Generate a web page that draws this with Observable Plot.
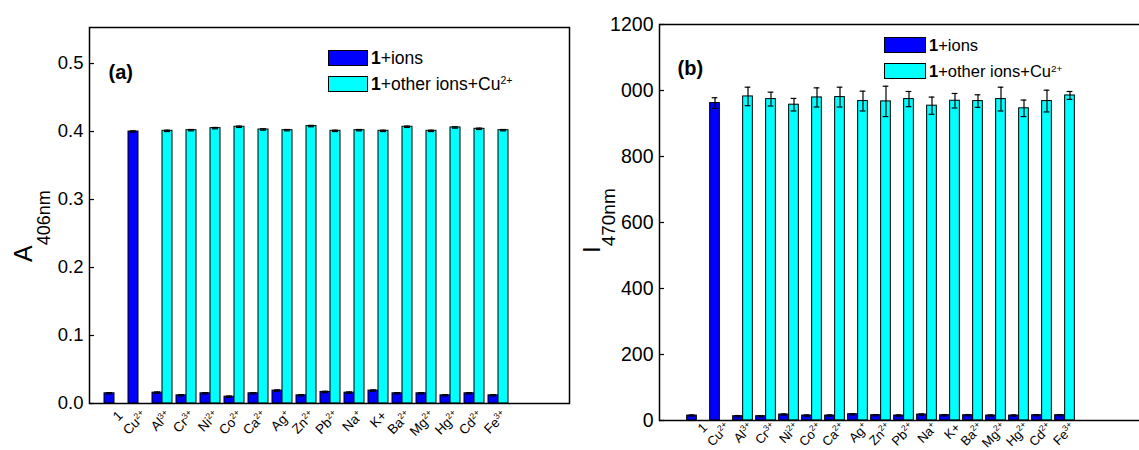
<!DOCTYPE html>
<html><head><meta charset="utf-8">
<script src="https://cdn.jsdelivr.net/npm/d3@7"></script>
<script src="https://cdn.jsdelivr.net/npm/@observablehq/plot@0.6"></script>
<style>
html,body{margin:0;padding:0;background:#fff;overflow:hidden}
#fig{position:relative;width:1139px;height:450px;overflow:hidden;font-family:"Liberation Sans",Arial,sans-serif;background:#fff}
.panel{position:absolute;top:0}
.leg{position:absolute;color:#000;font-family:"Liberation Sans",Arial,sans-serif;white-space:nowrap}
.leg .row{position:absolute;left:0;display:flex;align-items:center}
.leg .sw{border:1px solid #000;box-sizing:border-box;margin-right:3px}
.leg sup{font-size:60%;vertical-align:0.55em;line-height:0}
</style></head><body><div id="fig"></div><script>
// ---- data ----
const categories = ["1","Cu","Al","Cr","Ni","Co","Ca","Ag","Zn","Pb","Na","K+","Ba","Mg","Hg","Cd","Fe"];
const charges    = ["","2+","3+","3+","2+","2+","2+","+","2+","2+","+","","2+","2+","2+","2+","3+"];

// (a) absorbance at 406 nm
const absIons    = [0.015,0.400,0.016,0.012,0.015,0.010,0.015,0.019,0.012,0.017,0.016,0.019,0.015,0.015,0.012,0.015,0.012];
const absIonsErr = [0.001,0.001,0.001,0.001,0.001,0.001,0.001,0.001,0.001,0.001,0.001,0.001,0.001,0.001,0.001,0.001,0.001];
const absMix     = [null,null,0.401,0.402,0.405,0.407,0.403,0.402,0.408,0.401,0.402,0.401,0.407,0.401,0.406,0.404,0.402];
const absMixErr  = [null,null,0.001,0.001,0.001,0.001,0.001,0.001,0.001,0.001,0.001,0.001,0.001,0.001,0.001,0.001,0.001];
const absTicks      = [0,0.1,0.2,0.3,0.4,0.5];
const absTickLabels = ["0.0","0.1","0.2","0.3","0.4","0.5"];

// (b) emission intensity at 470 nm
const flIons     = [15,962,13,13,18,15,15,19,16,15,18,16,16,15,15,16,16];
const flIonsErr  = [2,16,2,2,2,2,2,2,2,2,2,2,2,2,2,2,2];
const flMix      = [null,null,982,974,957,979,980,968,967,974,954,969,968,974,946,968,985];
const flMixErr   = [null,null,28,21,19,29,30,30,46,23,26,22,19,36,25,33,12];
const flTicks      = [0,200,400,600,800,1000,1200];
const flTickLabels = ["0","200","400","600","800","000","1200"];

const seriesNames = ["1+ions","1+other ions+Cu"];
const BLUE = "#0000ff", CYAN = "#00ffff";
const FONT = "'Liberation Sans', Arial, sans-serif";
const SVGNS = "http://www.w3.org/2000/svg";

function rows(vals, errs) {
  return categories.map((c, i) => ({c, v: vals[i], e: errs[i]})).filter(d => d.v != null);
}

function panel(o) {
  const blue = rows(o.ions, o.ionsErr), cyan = rows(o.mix, o.mixErr);
  const h = o.step / 2, bw = o.barW, cw = 6;
  const plotW = o.width - o.ml - o.mr;
  const errMarks = (data, side) => {
    const off = side * (bw / 2);
    const capIn = side < 0 ? {insetLeft: h - bw/2 - cw/2, insetRight: h + bw/2 - cw/2} : {insetLeft: h + bw/2 - cw/2, insetRight: h - bw/2 - cw/2};
    return [
      Plot.ruleX(data, {x: "c", y1: d => d.v - d.e, y2: d => d.v + d.e, dx: off, stroke: "#000", strokeWidth: 1.2}),
      Plot.tickY(data, {x: "c", y: d => d.v + d.e, stroke: "#000", strokeWidth: 1.2, ...capIn}),
      Plot.tickY(data, {x: "c", y: d => d.v - d.e, stroke: "#000", strokeWidth: 1.2, ...capIn})
    ];
  };
  const svg = Plot.plot({
    width: o.width, height: 450,
    marginLeft: o.ml, marginRight: o.mr, marginTop: o.mt, marginBottom: o.mb,
    style: {fontFamily: FONT, background: "transparent", overflow: "visible"},
    x: {type: "band", domain: categories, range: o.xRange, padding: 0, axis: null},
    y: {domain: o.yDomain, axis: null},
    marks: [
      Plot.barY(blue, {x: "c", y: "v", fill: BLUE, stroke: "#000", strokeWidth: 1, insetLeft: h - bw, insetRight: h}),
      Plot.barY(cyan, {x: "c", y: "v", fill: CYAN, stroke: "#000", strokeWidth: 1, insetLeft: h, insetRight: h - bw}),
      ...errMarks(blue, -1),
      ...errMarks(cyan, 1),
      Plot.tickY(o.yTicks, {y: d => d, stroke: "#000", strokeWidth: 1.2, insetRight: plotW - 5}),
      Plot.axisY({ticks: o.yTicks, tickFormat: d => o.yLabels[o.yTicks.indexOf(d)], tickSize: 0, tickPadding: 6, fontSize: o.yFont, label: null, fill: "#000"}),
      Plot.text(categories, {x: d => d, frameAnchor: "bottom", rotate: -45, textAnchor: "end",
        dx: o.xdx, dy: o.xdy, fontSize: o.xFont, fill: "#000"}),
      Plot.frame({stroke: "#000", strokeWidth: 1.5}),
      Plot.text([o.tag], {frameAnchor: "top-left", dx: o.tagDx, dy: o.tagDy, fontWeight: "bold", fontSize: 20, fill: "#000", textAnchor: "start"})
    ]
  });
  // ion labels: superscript charges
  svg.querySelectorAll("text").forEach(t => {
    if (t.closest('g[aria-label="text"]') == null) return;
    const i = categories.indexOf(t.textContent);
    if (i < 0 || !charges[i]) return;
    const ts = document.createElementNS(SVGNS, "tspan");
    ts.setAttribute("dy", "-0.6em");
    ts.setAttribute("font-size", "8.5");
    ts.textContent = charges[i];
    t.appendChild(ts);
  });
  // y axis title with subscript
  const yt = d3.select(svg).append("text")
    .attr("transform", `translate(${o.yTitleX},${o.yTitleY}) rotate(-90)`)
    .attr("font-family", FONT).attr("fill", "#000").attr("text-anchor", "start");
  yt.append("tspan").attr("font-size", o.yTitleFont).text(o.yTitle);
  yt.append("tspan").attr("font-size", o.ySubFont).attr("dy", o.ySubDy).text(o.ySub);
  svg.classList.add("panel");
  svg.style.left = o.left + "px";
  return svg;
}

function legend(o) {
  const div = document.createElement("div");
  div.className = "leg";
  div.style.left = o.x + "px"; div.style.top = o.y + "px"; div.style.fontSize = o.font + "px";
  const mk = (top, color, html) => {
    const r = document.createElement("div");
    r.className = "row"; r.style.top = top + "px"; r.style.height = o.h + "px";
    r.innerHTML = `<div class="sw" style="width:${o.w}px;height:${o.h}px;background:${color}"></div><span><b>1</b>${html}</span>`;
    div.appendChild(r);
  };
  mk(0, BLUE, seriesNames[0].slice(1));
  mk(o.gap, CYAN, seriesNames[1].slice(1) + "<sup>2+</sup>");
  return div;
}

const fig = document.getElementById("fig");
fig.appendChild(panel({
  left: 0, width: 575, ml: 89, mr: 6, mt: 27, mb: 47,
  xRange: [102, 510], step: 24, barW: 10, xdx: 9, xdy: 13, xFont: 13.5,
  yDomain: [0, 0.553], yTicks: absTicks, yLabels: absTickLabels, yFont: 18.5,
  ions: absIons, ionsErr: absIonsErr, mix: absMix, mixErr: absMixErr,
  tag: "(a)", tagDx: 19, tagDy: 37,
  yTitle: "A", ySub: "406nm", yTitleX: 32, yTitleY: 262, yTitleFont: 25, ySubFont: 18, ySubDy: 18
}));
fig.appendChild(panel({
  left: 575, width: 600, ml: 84, mr: 20, mt: 24, mb: 30,
  xRange: [107.75, 503.85], step: 23.3, barW: 10, xdx: 11, xdy: 8, xFont: 13,
  yDomain: [0, 1200], yTicks: flTicks, yLabels: flTickLabels, yFont: 19.5,
  ions: flIons, ionsErr: flIonsErr, mix: flMix, mixErr: flMixErr,
  tag: "(b)", tagDx: 18, tagDy: 36,
  yTitle: "I", ySub: "470nm", yTitleX: 25, yTitleY: 253, yTitleFont: 24, ySubFont: 19, ySubDy: 15
}));
fig.appendChild(legend({x: 328, y: 50, w: 40, h: 16, gap: 26, font: 17.5}));
fig.appendChild(legend({x: 884, y: 37, w: 42, h: 16, gap: 26, font: 16.5}));
</script></body></html>
